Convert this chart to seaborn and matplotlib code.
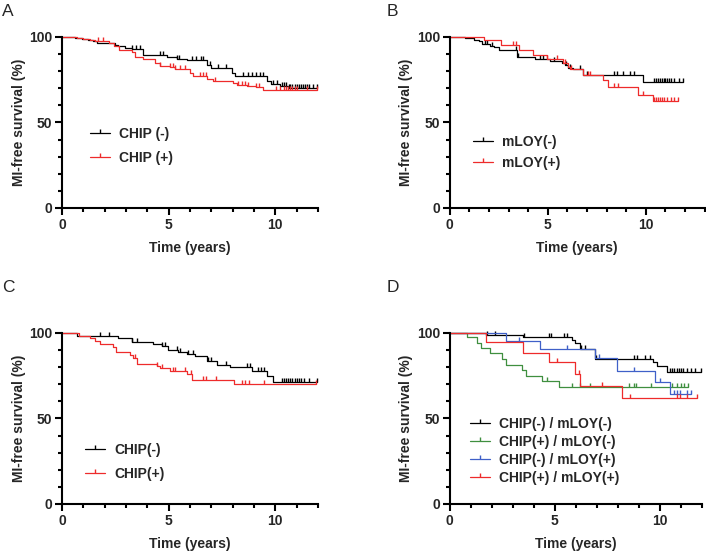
import numpy as np
import matplotlib
matplotlib.use('Agg')
import matplotlib.pyplot as plt
from matplotlib.lines import Line2D
from matplotlib.ticker import MultipleLocator
import seaborn as sns

# ---- data ----
# panel A: CHIP
a_neg_t = [0.6, 0.92, 1.23, 1.47, 1.63, 2.48, 2.64, 2.95, 3.27, 3.8, 4.9, 5.4, 5.85, 6.8, 7.0, 7.95, 8.1, 9.6, 9.8, 10.2, 10.6]
a_neg_s = [99.4, 98.8, 98.2, 97.7, 96.5, 95.5, 94.5, 93.8, 93.0, 89.7, 88.3, 87.2, 86.4, 83.4, 81.9, 79.0, 77.0, 74.0, 72.7, 71.2, 70.2]
a_neg_c = [3.3, 3.45, 3.65, 4.6, 4.75, 5.4, 5.5, 6.1, 6.3, 6.5, 6.6, 6.95, 7.3, 7.7, 8.5, 8.7, 8.9, 9.1, 9.3, 9.4,
           9.9, 10.1, 10.3, 10.4, 10.5, 10.65, 10.7, 10.8, 10.9, 11.0, 11.1, 11.2, 11.3, 11.4, 11.5, 11.6, 11.75, 11.95]
a_pos_t = [0.69, 1.0, 1.31, 1.55, 2.2, 2.45, 2.65, 3.27, 3.43, 3.8, 4.35, 4.6, 5.05, 5.3, 6.0, 6.15, 6.8, 7.1, 8.0, 8.2, 8.65, 9.1, 9.4]
a_pos_s = [99.4, 98.8, 98.2, 97.5, 96.3, 94.5, 92.2, 91.0, 88.3, 87.1, 84.8, 83.2, 82.5, 81.5, 79.0, 77.0, 75.4, 74.0, 73.0, 72.1, 71.5, 70.8, 69.2]
a_pos_c = [1.7, 1.9, 4.6, 5.05, 5.2, 5.3, 5.55, 5.75, 6.45, 6.6, 6.75, 7.15, 8.25, 8.45, 8.6, 8.7, 9.1, 9.25,
           10.05, 10.2, 10.4, 10.5, 10.6, 10.7, 10.8, 10.9, 11.0, 11.5, 11.95]

# panel B: mLOY
b_neg_t = [0.8, 1.22, 1.47, 1.64, 2.07, 2.24, 2.49, 3.42, 4.36, 5.12, 5.71, 5.88, 6.05, 6.3, 6.81, 9.86]
b_neg_s = [99.2, 98.4, 97.5, 96.1, 95.0, 94.2, 92.2, 88.3, 87.1, 85.8, 84.8, 83.4, 81.9, 81.3, 78.0, 73.5]
b_neg_c = [1.8, 1.9, 2.15, 3.4, 3.5, 4.6, 4.75, 5.3, 5.95, 6.15, 6.65, 7.0, 8.35, 8.55, 8.85, 9.2, 9.4,
           10.4, 10.5, 10.6, 10.7, 10.8, 10.9, 11.0, 11.1, 11.2, 11.3, 11.45, 11.7, 11.9]
b_pos_t = [1.73, 2.63, 3.51, 4.27, 4.95, 5.8, 6.05, 6.14, 6.81, 7.83, 8.08, 9.61, 10.37]
b_pos_s = [98.1, 95.1, 92.6, 89.7, 87.3, 85.0, 82.5, 81.3, 78.0, 75.0, 70.8, 66.3, 62.8]
b_pos_c = [3.25, 3.4, 4.95, 5.45, 5.9, 6.2, 7.05, 7.15, 8.4, 8.6, 9.86, 10.4, 10.5, 10.6, 10.7, 10.8, 10.9, 11.1, 11.3, 11.45, 11.64]

# panel C: CHIP (matched)
c_neg_t = [0.69, 2.64, 3.27, 4.28, 4.67, 4.98, 5.45, 5.84, 6.23, 6.78, 7.25, 7.88, 8.89, 9.6, 9.9]
c_neg_s = [98.2, 96.8, 95.0, 93.8, 92.4, 90.3, 89.0, 87.7, 86.4, 83.4, 81.5, 80.0, 78.0, 75.0, 71.5]
c_neg_c = [1.8, 2.2, 3.3, 3.5, 4.7, 4.85, 5.4, 5.55, 5.9, 6.15, 6.85, 7.0, 7.7, 8.65, 8.8, 9.2, 9.35, 9.45,
           10.3, 10.4, 10.5, 10.6, 10.7, 10.8, 10.9, 11.0, 11.1, 11.2, 11.35, 11.6, 11.95]
c_pos_t = [0.8, 1.3, 1.55, 1.8, 2.4, 2.55, 3.2, 3.35, 3.5, 4.45, 4.6, 5.05, 5.85, 6.1, 8.05]
c_pos_s = [98.4, 96.9, 95.5, 93.6, 91.6, 88.7, 87.1, 85.2, 81.9, 80.9, 79.3, 77.6, 75.8, 72.5, 70.2]
c_pos_c = [3.42, 4.45, 4.7, 5.2, 5.3, 5.75, 6.05, 6.6, 6.75, 7.2, 8.45, 8.6, 8.75, 9.45, 11.9]

# panel D: CHIP x mLOY
d_nn_t = [1.75, 3.5, 5.83, 5.95, 6.2, 6.9, 9.7, 9.85, 10.35]
d_nn_s = [99.0, 97.5, 96.0, 94.0, 90.6, 85.0, 82.8, 80.5, 77.4]
d_nn_c = [1.78, 2.17, 3.55, 4.71, 4.8, 5.43, 5.59, 6.25, 6.45, 6.95, 8.76, 8.92, 9.32, 9.55,
          10.5, 10.6, 10.7, 10.8, 10.9, 11.0, 11.1, 11.3, 11.5, 11.7, 11.94]
d_pn_t = [0.83, 1.3, 1.5, 1.9, 2.5, 2.7, 3.45, 3.65, 4.4, 5.2]
d_pn_s = [97.5, 94.3, 91.2, 88.0, 84.8, 81.5, 78.3, 75.0, 71.8, 68.5]
d_pn_c = [4.63, 5.83, 6.22, 6.7, 8.52, 8.76, 8.85, 9.56, 10.6, 10.8, 11.0, 11.15, 11.35]
d_np_t = [2.7, 4.32, 6.94, 7.97, 9.79, 10.5]
d_np_s = [95.5, 90.6, 85.2, 78.0, 71.2, 64.5]
d_np_c = [3.29, 5.59, 7.1, 8.76, 10.03, 10.67, 10.8, 10.98, 11.3, 11.5]
d_pp_t = [1.75, 3.49, 4.71, 5.98, 6.19, 8.21]
d_pp_s = [94.5, 88.3, 82.8, 76.0, 68.8, 61.8]
d_pp_c = [5.11, 6.14, 7.25, 8.57, 10.83, 10.98, 11.3, 11.75]

RED = '#ee2b2b'
GREEN = '#3f8f3f'
BLUE = '#3f60c8'

panels = [
    dict(letter='A', xmax=12, legend=(0.109, 0.363), spacing=0.75,
         curves=[('CHIP (-)', a_neg_t, a_neg_s, a_neg_c, 'black'),
                 ('CHIP (+)', a_pos_t, a_pos_s, a_pos_c, RED)]),
    dict(letter='B', xmax=13, legend=(0.091, 0.325), spacing=0.55,
         curves=[('mLOY(-)', b_neg_t, b_neg_s, b_neg_c, 'black'),
                 ('mLOY(+)', b_pos_t, b_pos_s, b_pos_c, RED)]),
    dict(letter='C', xmax=12, legend=(0.09, 0.246), spacing=0.75,
         curves=[('CHIP(-)', c_neg_t, c_neg_s, c_neg_c, 'black'),
                 ('CHIP(+)', c_pos_t, c_pos_s, c_pos_c, RED)]),
    dict(letter='D', xmax=12, legend=(0.08, 0.31), spacing=0.3,
         curves=[('CHIP(-) / mLOY(-)', d_nn_t, d_nn_s, d_nn_c, 'black'),
                 ('CHIP(+) / mLOY(-)', d_pn_t, d_pn_s, d_pn_c, GREEN),
                 ('CHIP(-) / mLOY(+)', d_np_t, d_np_s, d_np_c, BLUE),
                 ('CHIP(+) / mLOY(+)', d_pp_t, d_pp_s, d_pp_c, RED)]),
]

sns.set_theme(style='ticks')
plt.rcParams['font.family'] = ['Liberation Sans', 'DejaVu Sans']
plt.rcParams['axes.linewidth'] = 1.5

fig = plt.figure(figsize=(7.06, 5.52), dpi=100)
rects = [[0.0878, 0.6232, 0.3626, 0.3098],
         [0.637, 0.6232, 0.3612, 0.3098],
         [0.0878, 0.0870, 0.3626, 0.3098],
         [0.637, 0.0870, 0.357, 0.3098]]
letter_pos = [(0.003, 0.993), (0.547, 0.993), (0.003, 0.493), (0.547, 0.493)]

for p, rect, lp in zip(panels, rects, letter_pos):
    ax = fig.add_axes(rect)
    handles = []
    for label, t, s, c, col in p['curves']:
        t = np.asarray(t)
        s = np.asarray(s)
        end = max(c)
        xs = np.concatenate([[0], t, [end]])
        ys = np.concatenate([[100], s, [s[-1]]])
        sns.lineplot(x=xs, y=ys, drawstyle='steps-post', color=col, lw=0.9,
                     estimator=None, sort=False, ax=ax, clip_on=False)
        # censor marks sit on the step value at that time
        idx = np.searchsorted(t, c, side='right')
        cy = np.where(idx > 0, s[np.maximum(idx - 1, 0)], 100)
        ax.plot(c, cy, ls='none', marker=2, ms=2.8, mew=1.0, color=col, clip_on=False)
        handles.append(Line2D([], [], color=col, lw=0.9, marker=2, ms=2.8, mew=1.0, label=label))

    ax.set_xlim(0, p['xmax'])
    ax.set_ylim(0, 100)
    ax.xaxis.set_major_locator(MultipleLocator(5))
    ax.xaxis.set_minor_locator(MultipleLocator(1))
    ax.yaxis.set_major_locator(MultipleLocator(50))
    ax.yaxis.set_minor_locator(MultipleLocator(10))
    ax.tick_params(which='major', length=5, width=1.5, pad=2, labelsize=10, color='black')
    ax.tick_params(which='minor', length=3, width=1.5, color='black')
    for lab in ax.get_xticklabels() + ax.get_yticklabels():
        lab.set_fontweight('bold')
    sns.despine(ax=ax)
    for sp in ['left', 'bottom']:
        ax.spines[sp].set_color('black')
        ax.spines[sp].set_linewidth(1.5)

    ax.set_xlabel('Time (years)', fontsize=10, fontweight='bold', labelpad=7)
    ax.set_ylabel('MI-free survival (%)', fontsize=10, fontweight='bold', labelpad=2.5)

    ax.legend(handles=handles, loc='center left', bbox_to_anchor=p['legend'], frameon=False,
              borderpad=0, borderaxespad=0, handlelength=1.45, handletextpad=0.65,
              labelspacing=p['spacing'], numpoints=1,
              prop={'size': 10, 'weight': 'bold'})

    fig.text(lp[0], lp[1], p['letter'], fontsize=12.5, ha='left', va='top')

fig.savefig('out.png', dpi=100)
